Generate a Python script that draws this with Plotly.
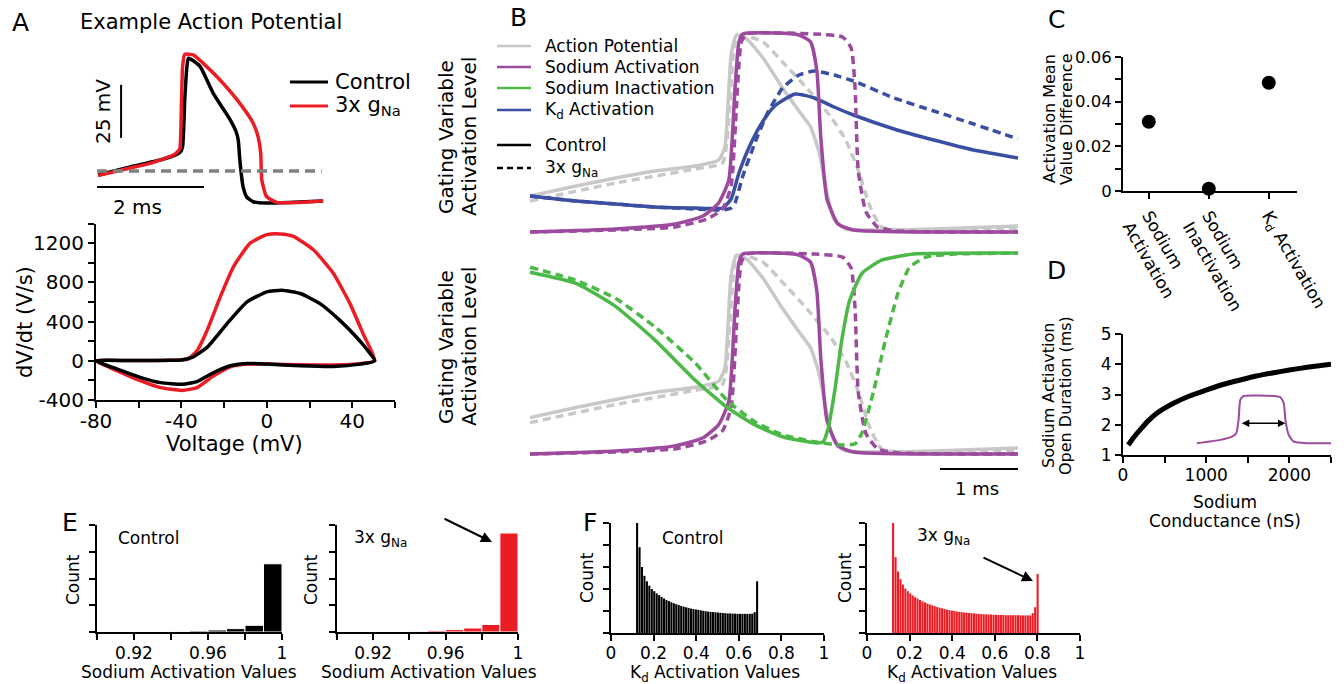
import plotly.graph_objects as go

FONT = "DejaVu Sans"
W, H = 1344, 684

# ---------------- DATA ----------------
# Panel A (top): example action potential, time (ms) / voltage (mV)
ap_t_control = [0.02, 0.62, 1.18, 1.46, 1.56, 1.60, 1.64, 1.68, 1.71, 1.80, 1.93, 2.17, 2.49, 2.60, 2.64, 2.67, 2.73, 2.80, 2.92, 3.18, 3.79, 4.22]
ap_v_control = [-51.9, -48.1, -44.8, -42.5, -41.0, -38.5, -16.5, -0.8, 3.2, 2.0, -0.8, -13.3, -25.9, -31.5, -35.4, -44.8, -57.4, -62.3, -64.5, -65.1, -64.6, -64.2]
ap_t_gna3 = [0.02, 0.62, 0.99, 1.43, 1.52, 1.55, 1.58, 1.60, 1.64, 1.80, 2.05, 2.30, 2.67, 2.92, 3.01, 3.06, 3.08, 3.17, 3.36, 3.79, 4.23]
ap_v_gna3 = [-52.2, -48.6, -46.4, -42.5, -40.5, -39.3, -16.5, -0.8, 5.0, 4.7, -0.8, -7.1, -18.1, -27.5, -33.8, -41.7, -54.2, -62.1, -64.8, -64.8, -64.2]
rest_t = [0.0, 4.2]
rest_v = [-50.0, -50.0]

# Panel A (bottom): phase plot, voltage (mV) / dV/dt (V/s)
phase_v_control = [-80, -60, -45, -40, -35, -28, -18.7, -9.3, 0, 7, 15.6, 24.9, 34.2, 42, 46.7, 50.5,
                   43.6, 31.1, 15.6, 0, -9.3, -17.1, -24.9, -32.7, -39.7, -49.8, -59, -70, -80]
phase_d_control = [0, 2, 5, 8, 34, 137, 377, 600, 703, 720, 686, 583, 412, 240, 120, 0,
                   -34, -58, -51, -34, -27, -51, -120, -213, -240, -223, -171, -86, 0]
phase_v_gna3 = [-80, -60, -45, -37, -32.7, -28, -21.8, -15.6, -7.8, 0, 6.2, 12.4, 21.8, 31.1, 38.9, 45.1, 50.5,
                43.6, 31.1, 15.6, 0, -9.3, -17.1, -24.9, -32.7, -39.7, -49.8, -59, -70, -80]
phase_d_gna3 = [0, 2, 6, 17, 103, 309, 652, 960, 1200, 1286, 1293, 1269, 1132, 892, 583, 274, 0,
                -30, -42, -40, -34, -34, -62, -154, -274, -302, -274, -206, -103, 0]

# Panel B: gating variables (time in ms, normalised level)
b_ap_t = [0, 0.59, 1.10, 1.60, 2.12, 2.42, 2.50, 2.58, 2.65, 2.78, 2.99, 3.24, 3.45, 3.60, 3.71, 3.81, 3.90, 4.05, 4.41, 5.18, 6.26]
b_ap_v = [0.18, 0.23, 0.27, 0.305, 0.33, 0.36, 0.425, 0.885, 0.985, 0.965, 0.87, 0.72, 0.605, 0.525, 0.395, 0.195, 0.065, 0.015, 0.01, 0.015, 0.03]
b_ap3_t = [0, 1.10, 2.12, 2.47, 2.55, 2.63, 2.71, 2.99, 3.24, 3.55, 3.86, 4.05, 4.21, 4.36, 4.51, 4.92, 6.26]
b_ap3_v = [0.155, 0.245, 0.315, 0.345, 0.56, 0.95, 0.985, 0.95, 0.85, 0.72, 0.575, 0.46, 0.31, 0.13, 0.025, 0.005, 0.015]

b_m_t = [0, 1.10, 1.86, 2.22, 2.42, 2.55, 2.63, 2.68, 2.73, 3.14, 3.45, 3.60, 3.68, 3.73, 3.81, 3.95, 4.15, 6.26]
b_m_v = [0, 0.015, 0.04, 0.08, 0.145, 0.26, 0.72, 0.95, 0.99, 0.995, 0.985, 0.95, 0.805, 0.475, 0.165, 0.04, 0.01, 0]
b_m3_t = [0, 1.10, 1.86, 2.27, 2.47, 2.58, 2.65, 2.71, 2.78, 3.65, 4.01, 4.12, 4.17, 4.21, 4.31, 4.46, 4.72, 6.26]
b_m3_v = [0, 0.01, 0.025, 0.065, 0.115, 0.23, 0.64, 0.95, 0.99, 0.99, 0.975, 0.92, 0.72, 0.31, 0.10, 0.025, 0.005, 0]

b_n_t = [0, 0.59, 1.10, 1.60, 2.12, 2.47, 2.58, 2.68, 2.83, 2.99, 3.14, 3.40, 3.65, 3.90, 4.15, 4.67, 5.18, 5.69, 6.26]
b_n_v = [0.18, 0.155, 0.14, 0.125, 0.12, 0.12, 0.165, 0.295, 0.44, 0.555, 0.63, 0.69, 0.67, 0.625, 0.585, 0.515, 0.46, 0.41, 0.37]
b_n3_t = [0, 0.59, 1.10, 1.60, 2.12, 2.47, 2.58, 2.63, 2.73, 2.88, 3.04, 3.24, 3.45, 3.65, 3.90, 4.15, 4.67, 5.18, 5.69, 6.26]
b_n3_v = [0.18, 0.155, 0.14, 0.125, 0.115, 0.11, 0.12, 0.145, 0.28, 0.44, 0.59, 0.72, 0.785, 0.805, 0.785, 0.755, 0.67, 0.605, 0.54, 0.465]

b_h_t = [0, 0.59, 1.10, 1.60, 2.12, 2.53, 2.88, 3.24, 3.65, 3.76, 3.83, 3.91, 4.00, 4.10, 4.26, 4.51, 4.92, 6.26]
b_h_v = [0.90, 0.845, 0.73, 0.565, 0.365, 0.23, 0.145, 0.085, 0.055, 0.06, 0.135, 0.315, 0.565, 0.76, 0.895, 0.96, 0.99, 0.995]
b_h3_t = [0, 0.59, 1.10, 1.60, 2.12, 2.53, 2.88, 3.24, 3.65, 3.96, 4.17, 4.26, 4.41, 4.56, 4.72, 4.87, 5.08, 5.44, 6.26]
b_h3_v = [0.925, 0.86, 0.77, 0.63, 0.45, 0.265, 0.16, 0.095, 0.06, 0.045, 0.05, 0.105, 0.315, 0.565, 0.795, 0.925, 0.975, 0.99, 0.995]

# Panel C: activation mean value difference
c_categories = ["Sodium<br>Activation", "Sodium<br>Inactivation", "K<sub>d</sub> Activation"]
c_values = [0.031, 0.001, 0.0485]

# Panel D: open duration vs sodium conductance
d_gna = [64, 120, 205, 300, 406, 607, 800, 1008, 1200, 1410, 1600, 1811, 2000, 2213, 2500]
d_dur = [1.33, 1.55, 1.83, 2.12, 2.38, 2.71, 2.95, 3.15, 3.33, 3.48, 3.61, 3.72, 3.81, 3.90, 4.00]
d_inset_x = [888, 1169, 1310, 1361, 1389, 1410, 1449, 1811, 1892, 1932, 1952, 1992, 2052, 2213, 2514]
d_inset_y = [1.39, 1.50, 1.61, 1.72, 2.16, 2.82, 2.95, 2.95, 2.91, 2.71, 2.16, 1.66, 1.44, 1.39, 1.39]

# Panel E: sodium activation histograms
e_bins = [0.905, 0.915, 0.925, 0.935, 0.945, 0.955, 0.965, 0.975, 0.985, 0.995]
e_control = [0, 0, 0, 0, 0.01, 0.04, 0.075, 0.125, 0.25, 2.55]
e_gna3 = [0, 0, 0, 0, 0.025, 0.05, 0.09, 0.15, 0.28, 3.7]

# Panel F: Kd activation histograms
f_bins_control = [0.1225 + 0.0115 * i for i in range(50)]
f_control = [5.0, 3.9, 3.0, 2.6, 2.35, 2.15, 2.0, 1.9, 1.8, 1.72,
             1.64, 1.57, 1.5, 1.45, 1.40, 1.35, 1.31, 1.27, 1.23, 1.20,
             1.17, 1.14, 1.11, 1.09, 1.07, 1.05, 1.03, 1.01, 0.99, 0.97,
             0.96, 0.95, 0.94, 0.93, 0.92, 0.91, 0.90, 0.89, 0.89, 0.88,
             0.88, 0.87, 0.87, 0.87, 0.87, 0.87, 0.87, 0.88, 0.95, 2.35]
f_bins_gna3 = [0.1225 + 0.0115 * i for i in range(60)]
f_gna3 = [5.0, 3.45, 2.8, 2.45, 2.2, 2.02, 1.9, 1.8, 1.71, 1.63,
          1.56, 1.5, 1.44, 1.39, 1.34, 1.3, 1.26, 1.22, 1.18, 1.15,
          1.12, 1.09, 1.06, 1.04, 1.02, 1.0, 0.98, 0.96, 0.95, 0.93,
          0.92, 0.91, 0.9, 0.89, 0.88, 0.87, 0.86, 0.85, 0.85, 0.84,
          0.84, 0.83, 0.83, 0.82, 0.82, 0.82, 0.81, 0.81, 0.81, 0.81,
          0.81, 0.81, 0.8, 0.8, 0.8, 0.8, 0.8, 0.9, 1.17, 2.68]

# ---------------- STYLE ----------------
BLACK = "#000000"
RED = "#ec1c24"
GRAY = "#c8c8c8"
DGRAY = "#808080"
PURPLE = "#9c4a9e"
GREEN = "#4cb848"
BLUE = "#3a4ea2"
DASH = "8px,5px"


def px(x):
    return x / W


def py(y):
    return 1 - y / H


fig = go.Figure()


def line(x, y, color, width, ax, dash=None, shape="spline"):
    fig.add_trace(go.Scatter(
        x=x, y=y, mode="lines", xaxis="x" + ax, yaxis="y" + ax,
        line=dict(color=color, width=width, dash=dash, shape=shape, smoothing=0.5),
        showlegend=False, hoverinfo="skip"))


# A top
line(ap_t_control, ap_v_control, BLACK, 3.5, "")
line(ap_t_gna3, ap_v_gna3, RED, 3.5, "")
line(rest_t, rest_v, DGRAY, 3.5, "", dash="10px,6px", shape="linear")
# A bottom
line(phase_v_gna3, phase_d_gna3, RED, 3.5, "2")
line(phase_v_control, phase_d_control, BLACK, 3.5, "2")
# B top
line(b_ap3_t, b_ap3_v, GRAY, 3.5, "3", dash=DASH)
line(b_ap_t, b_ap_v, GRAY, 3.5, "3")
line(b_n3_t, b_n3_v, BLUE, 3.5, "3", dash=DASH)
line(b_n_t, b_n_v, BLUE, 3.5, "3")
line(b_m3_t, b_m3_v, PURPLE, 3.5, "3", dash=DASH)
line(b_m_t, b_m_v, PURPLE, 3.5, "3")
# B bottom
line(b_ap3_t, b_ap3_v, GRAY, 3.5, "4", dash=DASH)
line(b_ap_t, b_ap_v, GRAY, 3.5, "4")
line(b_m3_t, b_m3_v, PURPLE, 3.5, "4", dash=DASH)
line(b_m_t, b_m_v, PURPLE, 3.5, "4")
line(b_h3_t, b_h3_v, GREEN, 3.5, "4", dash=DASH)
line(b_h_t, b_h_v, GREEN, 3.5, "4")
# C
fig.add_trace(go.Scatter(x=c_categories, y=c_values, mode="markers", xaxis="x5", yaxis="y5",
                         marker=dict(color=BLACK, size=14), cliponaxis=False,
                         showlegend=False, hoverinfo="skip"))
# D
line(d_gna, d_dur, BLACK, 5, "6")
line(d_inset_x, d_inset_y, PURPLE, 2, "6")
# E
for xs, ys, col, ax in [(e_bins, e_control, BLACK, "7"), (e_bins, e_gna3, RED, "8")]:
    fig.add_trace(go.Bar(x=xs, y=ys, width=0.01, xaxis="x" + ax, yaxis="y" + ax,
                         marker=dict(color=col, line=dict(color="white", width=1)),
                         showlegend=False, hoverinfo="skip"))
# F
for xs, ys, col, ax in [(f_bins_control, f_control, BLACK, "9"), (f_bins_gna3, f_gna3, RED, "10")]:
    fig.add_trace(go.Bar(x=xs, y=ys, width=0.0098, xaxis="x" + ax, yaxis="y" + ax,
                         marker=dict(color=col, line=dict(width=0)),
                         showlegend=False, hoverinfo="skip"))


def axis(size=17, **kw):
    d = dict(showline=True, linecolor="black", linewidth=2, ticks="outside", tickcolor="black",
             tickwidth=2, ticklen=6, showgrid=False, zeroline=False, automargin=False,
             tickfont=dict(family=FONT, size=size, color="black"), fixedrange=True)
    d.update(kw)
    return d


def minor(vals):
    return dict(tickvals=vals, ticks="outside", ticklen=6, tickcolor="black", tickwidth=2)


def hidden(domain, rng, anchor):
    return dict(visible=False, domain=domain, range=rng, anchor=anchor, fixedrange=True, automargin=False)


layout = dict(
    template="none",
    width=W, height=H, autosize=False, margin=dict(l=0, r=0, t=0, b=0, pad=0),
    paper_bgcolor="white", plot_bgcolor="rgba(0,0,0,0)", barmode="overlay",
    font=dict(family=FONT, color="black"),
)
# A top
layout["xaxis"] = hidden([px(90), px(330)], [-0.131, 4.355], "y")
layout["yaxis"] = hidden([py(215), py(45)], [-70.75, 9.4], "x")
# A bottom
layout["xaxis2"] = axis(20, domain=[px(96), px(395)], range=[-80, 60], anchor="y2",
                        tickvals=[-80, -40, 0, 40], ticktext=["-80", "-40", "0", "40"],
                        minor=minor([-60, -20, 20, 60]), ticklabelstandoff=-4)
layout["yaxis2"] = axis(20, domain=[py(400), py(223.5)], range=[-400, 1400], anchor="x2",
                        tickvals=[-400, 0, 400, 800, 1200], ticktext=["-400", "0", "400", "800", "1200"],
                        minor=minor([-200, 200, 600, 1000, 1400]))
# B
bx = [-4 / 78, 6.26 + 4 / 78]
layout["xaxis3"] = hidden([px(526), px(1022)], bx, "y3")
layout["yaxis3"] = hidden([py(238), py(26)], [-0.03, 1.03], "x3")
layout["xaxis4"] = hidden([px(526), px(1022)], bx, "y4")
layout["yaxis4"] = hidden([py(460), py(246)], [-0.03, 1.03], "x4")
# C
layout["xaxis5"] = axis(17, domain=[px(1123), px(1297)], range=[-0.43, 2.47], anchor="y5",
                        type="category", tickangle=60)
layout["yaxis5"] = axis(16.5, domain=[py(191), py(57)], range=[0, 0.06], anchor="x5",
                        tickvals=[0, 0.02, 0.04, 0.06], ticktext=["0", "0.02", "0.04", "0.06"],
                        minor=minor([0.01, 0.03, 0.05]))
# D
layout["xaxis6"] = axis(17, domain=[px(1123), px(1331)], range=[0, 2500], anchor="y6",
                        tickvals=[0, 1000, 2000], ticktext=["0", "1000", "2000"],
                        minor=minor([500, 1500, 2500]), ticklabelstandoff=-2)
layout["yaxis6"] = axis(17, domain=[py(455), py(334)], range=[1, 5], anchor="x6",
                        tickvals=[1, 2, 3, 4, 5])
# E
for ax, x0, x1 in [("7", 97, 282), ("8", 337, 518)]:
    layout["xaxis" + ax] = axis(17, domain=[px(x0), px(x1)], range=[0.9, 1.0], anchor="y" + ax,
                                tickvals=[0.92, 0.96, 1.0], ticktext=["0.92", "0.96", "1"],
                                minor=minor([0.90, 0.94, 0.98]), ticklabelstandoff=-1)
    layout["yaxis" + ax] = axis(17, domain=[py(632), py(525)], range=[0, 4], anchor="x" + ax,
                                tickvals=[0, 1, 2, 3, 4], showticklabels=False)
# F
for ax, x0, x1 in [("9", 611, 824), ("10", 867, 1080)]:
    layout["xaxis" + ax] = axis(17, domain=[px(x0), px(x1)], range=[0, 1], anchor="y" + ax,
                                tickvals=[0, 0.2, 0.4, 0.6, 0.8, 1.0],
                                ticktext=["0", "0.2", "0.4", "0.6", "0.8", "1"], ticklabelstandoff=-2)
    layout["yaxis" + ax] = axis(17, domain=[py(633), py(523)], range=[0, 5], anchor="x" + ax,
                                tickvals=[0, 1, 2, 3, 4, 5], showticklabels=False)

fig.update_layout(**layout)


def ann(text, x, y, size=17, xanchor="center", angle=0):
    fig.add_annotation(text=text, x=px(x), y=py(y), xref="paper", yref="paper", showarrow=False,
                       font=dict(family=FONT, size=size, color="black"),
                       xanchor=xanchor, yanchor="middle", textangle=angle)


# panel letters
for letter, x, y in [("A", 20, 22), ("B", 518, 18), ("C", 1056, 20), ("D", 1056, 270),
                     ("E", 70, 522), ("F", 590, 522)]:
    ann(letter, x, y, size=25)

# A texts
ann("Example Action Potential", 78, 22, size=21, xanchor="left")
ann("Control", 333, 82, size=21, xanchor="left")
ann("3x g<sub>Na</sub>", 333, 106, size=21, xanchor="left")
ann("25 mV", 103, 112, size=20, angle=-90)
ann("2 ms", 137, 207, size=20)
ann("dV/dt (V/s)", 25, 322, size=21, angle=-90)
ann("Voltage (mV)", 234, 444, size=21)

# B texts
for txt, y in [("Action Potential", 46), ("Sodium Activation", 67), ("Sodium Inactivation", 88),
               ("K<sub>d</sub> Activation", 110), ("Control", 145), ("3x g<sub>Na</sub>", 168)]:
    ann(txt, 543, y, size=17, xanchor="left")
ann("Gating Variable", 446, 137, size=20, angle=-90)
ann("Activation Level", 469, 137, size=20, angle=-90)
ann("Gating Variable", 446, 347, size=20, angle=-90)
ann("Activation Level", 469, 347, size=20, angle=-90)
ann("1 ms", 977, 488, size=18)

# C texts
ann("Activation Mean", 1049, 119, size=16, angle=-90)
ann("Value Difference", 1066, 119, size=16, angle=-90)

# D texts
ann("Sodium Actiavtion", 1048, 396, size=16, angle=-90)
ann("Open Duration (ms)", 1065, 396, size=16, angle=-90)
ann("Sodium", 1225, 502, size=17)
ann("Conductance (nS)", 1225, 521, size=17)

# E texts
ann("Count", 73, 580, size=17, angle=-90)
ann("Count", 311, 580, size=17, angle=-90)
ann("Control", 116, 538, size=17, xanchor="left")
ann("3x g<sub>Na</sub>", 352, 538, size=17, xanchor="left")
ann("Sodium Activation Values", 189, 672, size=17)
ann("Sodium Activation Values", 429, 672, size=17)

# F texts
ann("Count", 587, 578, size=17, angle=-90)
ann("Count", 845, 578, size=17, angle=-90)
ann("Control", 660, 538, size=17, xanchor="left")
ann("3x g<sub>Na</sub>", 915, 536, size=17, xanchor="left")
ann("K<sub>d</sub> Activation Values", 715, 673, size=17)
ann("K<sub>d</sub> Activation Values", 972, 673, size=17)

# arrows
for tipx, tipy, axp, ayp in [(492, 542, -49, -24), (1033, 581, -51, -24)]:
    fig.add_annotation(x=px(tipx), y=py(tipy), xref="paper", yref="paper", ax=axp, ay=ayp,
                       showarrow=True, arrowhead=2, arrowsize=1.1, arrowwidth=2, arrowcolor="black", text="")
fig.add_annotation(x=1952, y=2.05, xref="x6", yref="y6", ax=1410, ay=2.05, axref="x6", ayref="y6",
                   showarrow=True, arrowhead=2, arrowside="end+start", arrowsize=1, arrowwidth=1.5,
                   arrowcolor="black", text="")

# shapes: legends and scale bars
shapes = []
for col, y in [(BLACK, 82), (RED, 106)]:
    shapes.append(dict(type="line", xref="paper", yref="paper", x0=px(290), x1=px(328), y0=py(y), y1=py(y),
                       line=dict(color=col, width=3)))
for col, y, dash in [(GRAY, 46, None), (PURPLE, 67, None), (GREEN, 88, None), (BLUE, 110, None),
                     (BLACK, 145, None), (BLACK, 168, "6px,4px")]:
    shapes.append(dict(type="line", xref="paper", yref="paper", x0=px(497), x1=px(531), y0=py(y), y1=py(y),
                       line=dict(color=col, width=2.5, dash=dash)))
# A scale bars (data units: 25 mV, 2 ms)
shapes.append(dict(type="line", xref="x", yref="y", x0=0.45, x1=0.45, y0=-34.4, y1=-9.4,
                   line=dict(color=BLACK, width=2)))
shapes.append(dict(type="line", xref="x", yref="y", x0=0, x1=2, y0=-57.5, y1=-57.5,
                   line=dict(color=BLACK, width=2)))
# B scale bar (1 ms)
shapes.append(dict(type="line", xref="x4", yref="paper", x0=5.26, x1=6.26, y0=py(469), y1=py(469),
                   line=dict(color=BLACK, width=2)))
fig.update_layout(shapes=shapes)

fig.write_html("out.html", config={"displayModeBar": False},
               post_script="document.body.style.margin='0px';document.body.style.overflow='hidden';")
